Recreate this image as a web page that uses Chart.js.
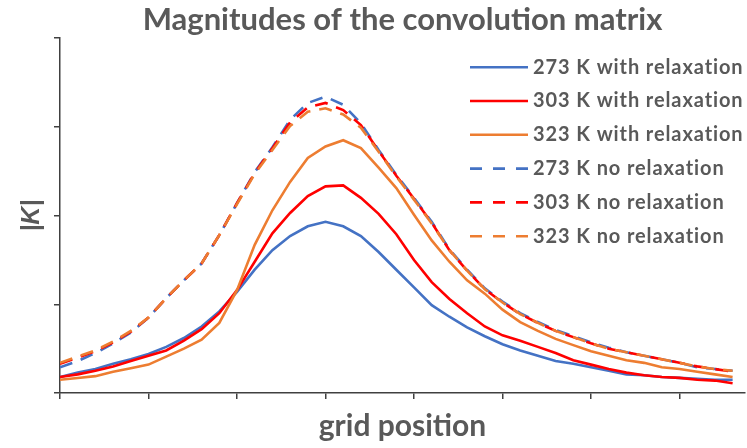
<!DOCTYPE html>
<html>
<head>
<meta charset="utf-8">
<script src="https://cdn.jsdelivr.net/npm/chart.js@4.4.1/dist/chart.umd.min.js"></script>
<style>
html, body { margin: 0; padding: 0; background: #fff; }
#wrap { width: 747px; height: 448px; position: relative; }
</style>
</head>
<body>
<div id="wrap"><canvas id="graph_kernel"></canvas></div>
<script>
var grid_pos = [0, 1, 2, 3, 4, 5, 6, 7, 8, 9, 10, 11, 12, 13, 14, 15, 16, 17, 18, 19,
	20, 21, 22, 23, 24, 25, 26, 27, 28, 29, 30, 31, 32, 33, 34, 35, 36, 37, 38];

var k273_relax = [0.18, 0.23, 0.27, 0.33, 0.38, 0.44, 0.52, 0.62, 0.75, 0.92, 1.14, 1.39, 1.61, 1.77, 1.88, 1.93, 1.88, 1.77, 1.59, 1.39,
	1.19, 0.99, 0.86, 0.74, 0.64, 0.55, 0.48, 0.42, 0.36, 0.33, 0.29, 0.25, 0.21, 0.20, 0.18, 0.17, 0.16, 0.15, 0.15];
var k303_relax = [0.18, 0.21, 0.25, 0.30, 0.36, 0.42, 0.48, 0.59, 0.72, 0.90, 1.16, 1.48, 1.80, 2.03, 2.22, 2.33, 2.34, 2.20, 2.02, 1.79,
	1.50, 1.25, 1.06, 0.90, 0.75, 0.65, 0.59, 0.52, 0.45, 0.37, 0.32, 0.27, 0.23, 0.20, 0.18, 0.17, 0.15, 0.14, 0.11];
var k323_relax = [0.15, 0.17, 0.19, 0.24, 0.28, 0.32, 0.41, 0.50, 0.60, 0.79, 1.16, 1.67, 2.06, 2.38, 2.65, 2.78, 2.85, 2.76, 2.54, 2.31,
	2.01, 1.72, 1.48, 1.27, 1.12, 0.94, 0.80, 0.70, 0.61, 0.54, 0.47, 0.42, 0.37, 0.34, 0.29, 0.27, 0.24, 0.21, 0.18];
var k273_norelax = [0.29, 0.36, 0.45, 0.56, 0.68, 0.85, 1.07, 1.27, 1.46, 1.78, 2.14, 2.49, 2.77, 3.08, 3.27, 3.34, 3.25, 3.04, 2.74, 2.46,
	2.20, 1.93, 1.62, 1.39, 1.18, 1.03, 0.90, 0.80, 0.71, 0.64, 0.57, 0.51, 0.46, 0.42, 0.38, 0.34, 0.29, 0.27, 0.25];
var k303_norelax = [0.33, 0.40, 0.47, 0.57, 0.69, 0.85, 1.07, 1.27, 1.46, 1.78, 2.14, 2.48, 2.76, 3.05, 3.22, 3.27, 3.19, 3.02, 2.73, 2.45,
	2.19, 1.92, 1.61, 1.38, 1.17, 1.02, 0.89, 0.79, 0.70, 0.63, 0.56, 0.50, 0.46, 0.42, 0.38, 0.34, 0.30, 0.27, 0.24];
var k323_norelax = [0.34, 0.41, 0.48, 0.58, 0.70, 0.85, 1.07, 1.27, 1.46, 1.78, 2.13, 2.47, 2.74, 3.01, 3.17, 3.21, 3.14, 2.99, 2.72, 2.44,
	2.18, 1.91, 1.61, 1.38, 1.17, 1.02, 0.89, 0.79, 0.70, 0.63, 0.56, 0.50, 0.46, 0.42, 0.38, 0.34, 0.30, 0.27, 0.25];

var series_labels = ['273 K with relaxation', '303 K with relaxation', '323 K with relaxation',
	'273 K no relaxation', '303 K no relaxation', '323 K no relaxation'];
var series_values = [k273_relax, k303_relax, k323_relax, k273_norelax, k303_norelax, k323_norelax];
var series_colors = ['#4472C4', '#FF0000', '#ED7D31', '#4472C4', '#FF0000', '#ED7D31'];
var series_dashed = [false, false, false, true, true, true];

var text_grey = '#595959';
var axis_grey = '#404040';

function toPoints(values){
	return values.map(function(v, i){ return {x: grid_pos[i], y: v}; });
}

var graph_datasets = series_values.map(function(values, i){
	return {
		label: series_labels[i],
		data: toPoints(values),
		borderColor: series_colors[i],
		backgroundColor: series_colors[i],
		borderWidth: 2.6,
		borderDash: series_dashed[i] ? [13, 9] : [],
		fill: false,
		pointRadius: 0,
		tension: 0,
		//excel puts the last series on top
		order: series_values.length - i
	};
});

// legend sits inside the plot, top right
var inside_legend = {
	id: 'insideLegend',
	afterDatasetsDraw: function(chart){
		var ctx = chart.ctx;
		var area = chart.chartArea;
		var x0 = area.right - 275;
		var y0 = area.top + 29;
		ctx.save();
		ctx.font = 'bold 20px Lato';
		ctx.letterSpacing = '0.9px';
		ctx.textBaseline = 'middle';
		ctx.fillStyle = text_grey;
		chart.data.datasets.forEach(function(ds, i){
			var y = y0 + i * 33.8;
			ctx.beginPath();
			ctx.setLineDash(ds.borderDash.length ? [12, 11] : []);
			ctx.strokeStyle = ds.borderColor;
			ctx.lineWidth = 2.6;
			ctx.moveTo(x0, y);
			ctx.lineTo(x0 + 58, y);
			ctx.stroke();
			ctx.setLineDash([]);
			ctx.fillText(ds.label, x0 + 63, y);
		});
		ctx.restore();
	}
};

var graph_kernel_config = {
	type: 'line',
	data: {
		datasets: graph_datasets
	},
	options: {
		animation: false,
		responsive: true,
		maintainAspectRatio: false,
		layout: {
			padding: {left: 0, right: 2, top: 0, bottom: 0}
		},
		scales: {
			x: {
				type: 'linear',
				min: 0,
				max: 38.7,
				afterBuildTicks: function(scale){
					scale.ticks = scale.ticks.filter(function(t){ return t.value % 5 === 0; });
				},
				ticks: {
					display: false,
					stepSize: 5
				},
				grid: {
					drawOnChartArea: false,
					drawTicks: true,
					tickLength: 6,
					color: axis_grey,
					lineWidth: 1.5
				},
				border: {
					color: axis_grey,
					width: 1.5
				},
				title: {
					display: true,
					text: 'grid position',
					color: text_grey,
					font: {family: 'Lato', size: 30, weight: 'bold'},
					padding: {top: 9, bottom: 4}
				}
			},
			y: {
				min: 0,
				max: 4,
				ticks: {
					display: false,
					stepSize: 1
				},
				grid: {
					drawOnChartArea: false,
					drawTicks: true,
					tickLength: 6,
					color: axis_grey,
					lineWidth: 1.5
				},
				border: {
					color: axis_grey,
					width: 1.5
				},
				title: {
					display: true,
					text: '|K|',
					color: text_grey,
					font: {family: 'Liberation Sans', size: 25, weight: 'bold', style: 'italic'},
					padding: {top: 17, bottom: 7}
				}
			}
		},
		plugins: {
			legend: {
				display: false
			},
			tooltip: {
				enabled: false
			},
			title: {
				display: true,
				fullSize: false,
				text: 'Magnitudes of the convolution matrix',
				color: text_grey,
				font: {family: 'Lato', size: 31, weight: 'bold'},
				padding: {top: 1, bottom: 0}
			}
		}
	},
	plugins: [inside_legend]
};

document.addEventListener("DOMContentLoaded", function(){
	new Chart(document.getElementById("graph_kernel").getContext('2d'), graph_kernel_config);
});
</script>
</body>
</html>
